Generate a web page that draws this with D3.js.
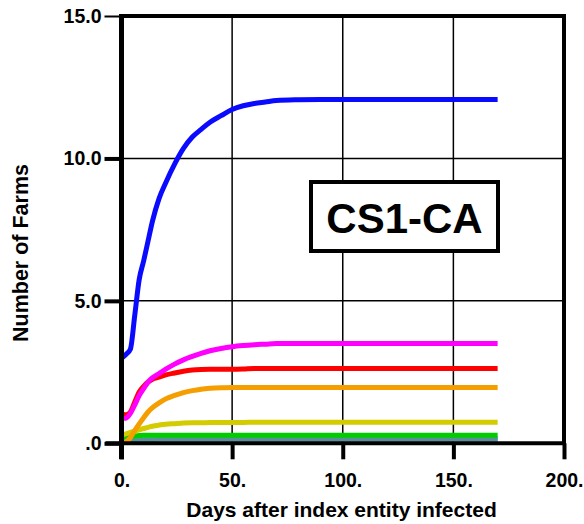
<!DOCTYPE html>
<html><head><meta charset="utf-8">
<script src="https://cdn.jsdelivr.net/npm/d3@7"></script>
<style>html,body{margin:0;padding:0;background:#fff;}svg{display:block;}</style>
</head><body>
<script>
const days    = [0,2,4,6,8,10,12,14,17,20,24,28,32,36,40,45,50,55,60,65,70,80,90,100,120,140,170];
const blue    = [2.98,3.12,3.3,4.5,5.75,6.4,7.1,7.8,8.6,9.15,9.8,10.35,10.75,11.02,11.27,11.5,11.72,11.85,11.93,11.98,12.03,12.06,12.07,12.07,12.07,12.07,12.07];
const magenta = [0.88,0.88,1.05,1.35,1.68,1.92,2.15,2.3,2.45,2.6,2.78,2.93,3.05,3.16,3.25,3.33,3.39,3.43,3.46,3.48,3.5,3.5,3.5,3.5,3.5,3.5,3.5];
const red     = [1.05,1.0,1.1,1.45,1.8,2.0,2.15,2.25,2.32,2.4,2.47,2.53,2.57,2.59,2.6,2.6,2.6,2.61,2.63,2.63,2.63,2.63,2.63,2.63,2.63,2.63,2.63];
const orange  = [0.0,0.05,0.2,0.45,0.68,0.9,1.1,1.25,1.42,1.56,1.68,1.78,1.85,1.9,1.93,1.95,1.96,1.96,1.96,1.96,1.96,1.96,1.96,1.96,1.96,1.96,1.96];
const yellow  = [0.3,0.33,0.38,0.43,0.47,0.52,0.56,0.6,0.64,0.67,0.69,0.71,0.72,0.72,0.73,0.73,0.73,0.73,0.74,0.74,0.74,0.74,0.74,0.74,0.74,0.74,0.74];
const green   = [0.21,0.22,0.24,0.26,0.27,0.28,0.28,0.28,0.28,0.28,0.28,0.28,0.28,0.28,0.28,0.28,0.28,0.28,0.28,0.28,0.28,0.28,0.28,0.28,0.28,0.28,0.28];
const cyan    = [0.14,0.15,0.16,0.16,0.16,0.16,0.16,0.16,0.16,0.16,0.16,0.16,0.16,0.16,0.16,0.16,0.16,0.16,0.16,0.16,0.16,0.16,0.16,0.16,0.16,0.16,0.16];
const teal    = [0.02,0.04,0.06,0.08,0.09,0.1,0.11,0.12,0.14,0.14,0.14,0.14,0.14,0.14,0.14,0.14,0.14,0.14,0.14,0.14,0.14,0.14,0.14,0.14,0.14,0.14,0.14];
const xTicks = [0,50,100,150,200];
const xTickLabels = ["0.","50.","100.","150.","200."];
const yTicks = [0,5,10,15];
const yTickLabels = [".0","5.0","10.0","15.0"];
const seriesList = [
  {name:"cyan", values:cyan, color:"#22c8c8"},
  {name:"teal", values:teal, color:"#5b8f98"},
  {name:"green", values:green, color:"#00cc00"},
  {name:"yellow", values:yellow, color:"#d2cc00"},
  {name:"red", values:red, color:"#ff0000"},
  {name:"magenta", values:magenta, color:"#ff00ff"},
  {name:"orange", values:orange, color:"#f59e00"},
  {name:"blue", values:blue, color:"#0a0aff"}
];

const W=584,H=524;
const svg=d3.select("body").append("svg").attr("width",W).attr("height",H);
const x=d3.scaleLinear().domain([0,200]).range([121.5,564]);
const y=d3.scaleLinear().domain([0,15]).range([443.3,16]);
const font="Arial, 'Liberation Sans', Helvetica, sans-serif";

// gridlines
const g=svg.append("g");
g.selectAll("line.vg").data([50,100,150]).join("line")
  .attr("x1",d=>x(d)).attr("x2",d=>x(d)).attr("y1",y(15)).attr("y2",y(0))
  .attr("stroke","#000").attr("stroke-width",1.5);
g.selectAll("line.hg").data([5,10]).join("line")
  .attr("x1",x(0)).attr("x2",x(200)).attr("y1",d=>y(d)).attr("y2",d=>y(d))
  .attr("stroke","#000").attr("stroke-width",1.5);

// series
const line=d3.line().x((d,i)=>x(days[i])).y(d=>y(d)).curve(d3.curveMonotoneX);
svg.selectAll("path.s").data(seriesList).join("path")
  .attr("d",d=>line(d.values)).attr("fill","none")
  .attr("stroke",d=>d.color).attr("stroke-width",5)
  .attr("stroke-linejoin","round");

// frame top and right
svg.append("line").attr("x1",x(0)).attr("x2",x(200)+2).attr("y1",y(15)).attr("y2",y(15)).attr("stroke","#000").attr("stroke-width",4);
svg.append("line").attr("x1",x(200)).attr("x2",x(200)).attr("y1",y(15)).attr("y2",y(0)).attr("stroke","#000").attr("stroke-width",4);

// axes
const xAxis=d3.axisBottom(x).tickValues(xTicks).tickFormat((d,i)=>xTickLabels[i]).tickSize(16).tickPadding(12);
const xa=svg.append("g").attr("transform",`translate(0,${y(0)})`).call(xAxis);
xa.select(".domain").attr("stroke-width",4).attr("d",`M${x(0)-16},0H${x(200)+2}`);
xa.selectAll(".tick line").attr("stroke-width",4);
xa.selectAll(".tick text").attr("font-family",font).attr("font-weight","bold").attr("font-size","19.5px").attr("fill","#000").attr("dy","0.8em");

const yAxis=d3.axisLeft(y).tickValues(yTicks).tickFormat((d,i)=>yTickLabels[i]).tickSize(17).tickPadding(3);
const ya=svg.append("g").attr("transform",`translate(${x(0)},0)`).call(yAxis);
ya.select(".domain").attr("stroke-width",5).attr("d",`M0,${y(15)-2}V${y(0)+16}`);
ya.selectAll(".tick line").attr("stroke-width",d=>d===15?2:4);
ya.selectAll(".tick text").attr("font-family",font).attr("font-weight","bold").attr("font-size","19.5px").attr("fill","#000");

// titles
svg.append("text").attr("x",341.5).attr("y",517).attr("text-anchor","middle")
  .attr("font-family",font).attr("font-weight","bold").attr("font-size","21px").text("Days after index entity infected");
svg.append("text").attr("transform","translate(28,253) rotate(-90)").attr("text-anchor","middle")
  .attr("font-family",font).attr("font-weight","bold").attr("font-size","21.5px").text("Number of Farms");

// annotation box
svg.append("rect").attr("x",311).attr("y",182).attr("width",187).attr("height",69)
  .attr("fill","#fff").attr("stroke","#000").attr("stroke-width",4);
svg.append("text").attr("x",404.5).attr("y",233).attr("text-anchor","middle")
  .attr("font-family",font).attr("font-weight","bold").attr("font-size","42px").text("CS1-CA");
</script>
</body></html>
